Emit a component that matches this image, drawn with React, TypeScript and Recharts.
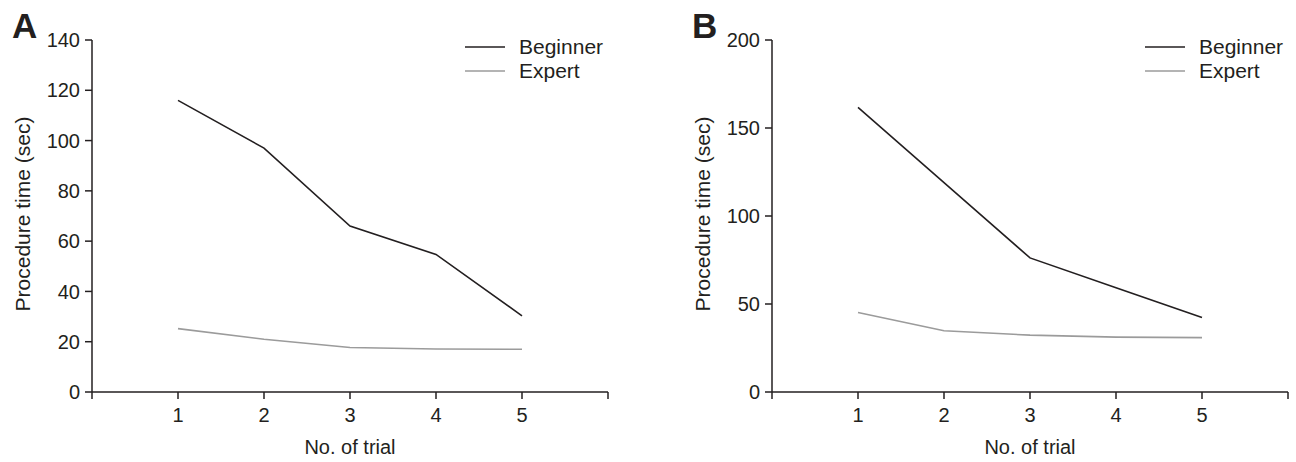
import React from 'react';
import { LineChart, Line, XAxis, YAxis, Legend, Label } from 'recharts';

const trials = [1, 2, 3, 4, 5];
const beginnerA = [116, 97, 66, 54.7, 30.3];
const expertA = [25.2, 21, 17.7, 17.1, 17];
const beginnerB = [161.7, 119, 76.2, 59.3, 42.3];
const expertB = [45.2, 34.8, 32.3, 31.2, 30.9];
const yTicksA = [0, 20, 40, 60, 80, 100, 120, 140];
const yTicksB = [0, 50, 100, 150, 200];
const xTicks = [0, 1, 2, 3, 4, 5, 6];
const xTickLabels = [1, 2, 3, 4, 5];
const seriesNames = ['Beginner', 'Expert'];
const yTitle = 'Procedure time (sec)';
const xTitle = 'No. of trial';

const FONT = '"Liberation Sans", Arial, sans-serif';
const INK = '#231f20';
const GRAY = '#9b9b9b';

type PanelProps = {
  letter: string;
  beginner: number[];
  expert: number[];
  yTicks: number[];
  left: number;
  width: number;
  marginRight: number;
};

const LegendBox = (props: any) => {
  const payload = props.payload || [];
  return (
    <div style={{ fontFamily: FONT, fontSize: 21, color: INK }}>
      {payload.map((p: any) => (
        <div key={p.value} style={{ display: 'flex', alignItems: 'center', height: 24, lineHeight: '24px' }}>
          <svg width={40} height={24} style={{ display: 'block' }}>
            <line x1={0} x2={40} y1={12} y2={12} stroke={p.color} strokeWidth={1.5} />
          </svg>
          <span style={{ marginLeft: 14, whiteSpace: 'nowrap' }}>{p.value}</span>
        </div>
      ))}
    </div>
  );
};

const Panel = ({ letter, beginner, expert, yTicks, left, width, marginRight }: PanelProps) => {
  const data = trials.map((t, i) => ({ trial: t, beginner: beginner[i], expert: expert[i] }));
  const yMax = yTicks[yTicks.length - 1];
  const tickStyle = { fill: INK, fontSize: 20, fontFamily: FONT };
  return (
    <div style={{ position: 'absolute', left, top: 0, width, height: 462 }}>
      <LineChart
        width={width}
        height={462}
        data={data}
        margin={{ top: 40, right: marginRight, bottom: 40, left: 0 }}
      >
        <XAxis
          dataKey="trial"
          type="number"
          domain={[0, 6]}
          ticks={xTicks}
          interval={0}
          height={30}
          tickSize={7}
          tickMargin={9}
          tick={tickStyle}
          tickFormatter={(v: number) => (xTickLabels.includes(v) ? String(v) : '')}
          axisLine={{ stroke: INK, strokeWidth: 1.5 }}
          tickLine={{ stroke: INK, strokeWidth: 1.5 }}
        >
          <Label
            content={(p: any) => {
              const vb = p.viewBox || { x: 0, y: 0, width: 0 };
              return (
                <text
                  x={vb.x + vb.width / 2}
                  y={vb.y + 62}
                  textAnchor="middle"
                  fill={INK}
                  fontSize={20}
                  fontFamily={FONT}
                >
                  {xTitle}
                </text>
              );
            }}
          />
        </XAxis>
        <YAxis
          type="number"
          domain={[0, yMax]}
          ticks={yTicks}
          interval={0}
          width={92}
          tickSize={7}
          tickMargin={5}
          tick={tickStyle}
          axisLine={{ stroke: INK, strokeWidth: 1.5 }}
          tickLine={{ stroke: INK, strokeWidth: 1.5 }}
        >
          <Label
            content={(p: any) => {
              const vb = p.viewBox || { x: 0, y: 0, height: 0 };
              const cx = 30;
              const cy = vb.y + vb.height / 2 - 2;
              return (
                <text
                  x={cx}
                  y={cy}
                  transform={`rotate(-90, ${cx}, ${cy})`}
                  textAnchor="middle"
                  fill={INK}
                  fontSize={21}
                  fontFamily={FONT}
                >
                  {yTitle}
                </text>
              );
            }}
          />
        </YAxis>
        <Legend
          layout="vertical"
          align="center"
          verticalAlign="middle"
          wrapperStyle={{ position: 'absolute', left: 465, top: 35, width: 160 }}
          content={<LegendBox />}
        />
        <Line
          type="linear"
          dataKey="beginner"
          name={seriesNames[0]}
          stroke={INK}
          strokeWidth={1.6}
          dot={false}
          activeDot={false}
          isAnimationActive={false}
        />
        <Line
          type="linear"
          dataKey="expert"
          name={seriesNames[1]}
          stroke={GRAY}
          strokeWidth={1.6}
          dot={false}
          activeDot={false}
          isAnimationActive={false}
        />
      </LineChart>
      <svg width={60} height={50} style={{ position: 'absolute', left: 0, top: 0 }}>
        <text x={12} y={38} fontSize={35} fontWeight="bold" fontFamily={FONT} fill={INK}>
          {letter}
        </text>
      </svg>
    </div>
  );
};

export default function App() {
  return (
    <div style={{ position: 'absolute', left: 0, top: 0, width: 1296, height: 462, background: '#fff' }}>
      <Panel letter="A" beginner={beginnerA} expert={expertA} yTicks={yTicksA} left={0} width={648} marginRight={40} />
      <Panel letter="B" beginner={beginnerB} expert={expertB} yTicks={yTicksB} left={680} width={616} marginRight={8} />
    </div>
  );
}
